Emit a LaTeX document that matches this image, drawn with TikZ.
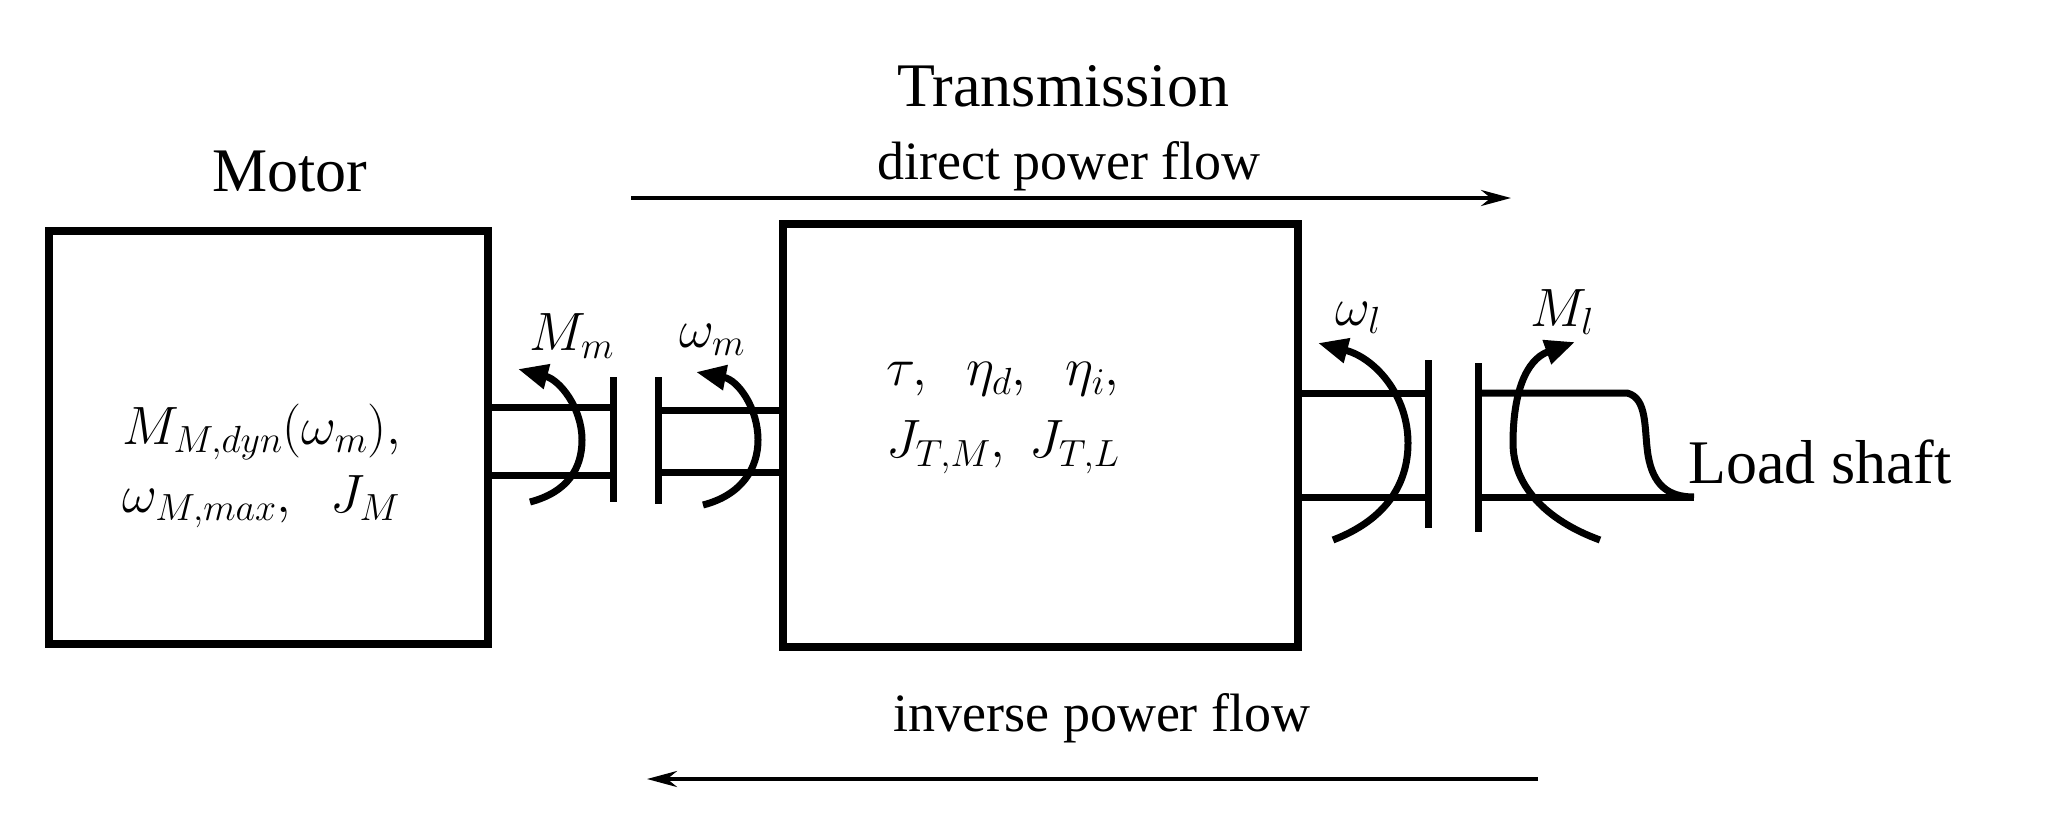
\documentclass[tikz,border=0pt]{standalone}
\usepackage{fix-cm}
\usepackage{fontspec}
\setmainfont{Liberation Serif}
\usetikzlibrary{arrows.meta}
\begin{document}
\begin{tikzpicture}[x=1pt,y=-1pt,
  box/.style={draw,line width=8pt,inner sep=0pt},
  shaft/.style={line width=7pt},
  torque/.style={line width=7pt,-{Triangle[length=30pt,width=24pt]}},
  flow/.style={line width=4pt,-{Stealth[length=30pt,width=16pt]}},
  lbl/.style={inner sep=0pt,font=\fontsize{54}{64}\selectfont},
  big/.style={inner sep=0pt,font=\fontsize{62}{72}\selectfont}]
\useasboundingbox (0,0) rectangle (2071,838);
% boxes
\node[box,minimum width=439pt,minimum height=413pt] (motor) at (268,437.5) {};
\node[box,minimum width=515pt,minimum height=423pt] (trans) at (1040.5,435.5) {};
\node[big] (tmotor) at (290,172) {Motor};
\node[big] (ttrans) at (1063,86) {Transmission};
\node[lbl] (dpf) at (1069,166) {direct power flow};
\node[lbl] (ipf) at (1102,718) {inverse power flow};
\node[big,anchor=west] (load) at (1688,462) {Load shaft};
\node[lbl,align=left] (mtext) at (262,466) {$M_{M,dyn}(\omega_m),$\\[4pt] $\omega_{M,max},\;\;J_M$};
\node[lbl,align=left] (ttext) at (1003,418) {$\tau,\;\;\eta_d,\;\;\eta_i,$\\[8pt] $J_{T,M},\;J_{T,L}$};
\node[lbl] (lMm) at (572,336) {$M_m$};
\node[lbl] (lwm) at (712,340) {$\omega_m$};
\node[lbl] (lwl) at (1358,318) {$\omega_l$};
\node[lbl] (lMl) at (1562,312) {$M_l$};
% power flow arrows
\coordinate (d1) at (631,198); \coordinate (d2) at (1511,198);
\coordinate (i1) at (1538,779); \coordinate (i2) at (647,779);
\draw[flow] (d1) -- (d2);
\draw[flow] (i1) -- (i2);
% motor shaft
\draw[shaft] (488,407) -- (613,407) (488,475) -- (613,475);
\draw[shaft] (613,377) -- (613,502);
% transmission input shaft
\draw[shaft] (658,377) -- (658,504);
\draw[shaft] (658,410) -- (783,410) (658,472) -- (783,472);
% transmission output shaft
\draw[shaft] (1298,393) -- (1428,393) (1298,497) -- (1428,497);
\draw[shaft] (1428,360) -- (1428,528);
% load shaft
\draw[shaft] (1478,363) -- (1478,532);
\draw[shaft] (1478,393) -- (1627,393) .. controls (1648,398) and (1644,430) .. (1648,455) .. controls (1653,485) and (1668,497) .. (1694,497);
\draw[shaft] (1478,497) -- (1694,497);
% torque arcs
\draw[torque] (530,502) .. controls (568,492) and (582,468) .. (582,440) .. controls (582,408) and (560,380) .. (518,369);
\draw[torque] (703,505) .. controls (742,495) and (758,468) .. (758,440) .. controls (758,408) and (738,380) .. (696,372);
\draw[torque] (1333,540) .. controls (1385,520) and (1408,485) .. (1408,443) .. controls (1408,395) and (1375,358) .. (1318,343);
\draw[torque] (1600,540) .. controls (1545,520) and (1513,485) .. (1513,443) .. controls (1513,395) and (1525,360) .. (1575,342);
\end{tikzpicture}
\end{document}
